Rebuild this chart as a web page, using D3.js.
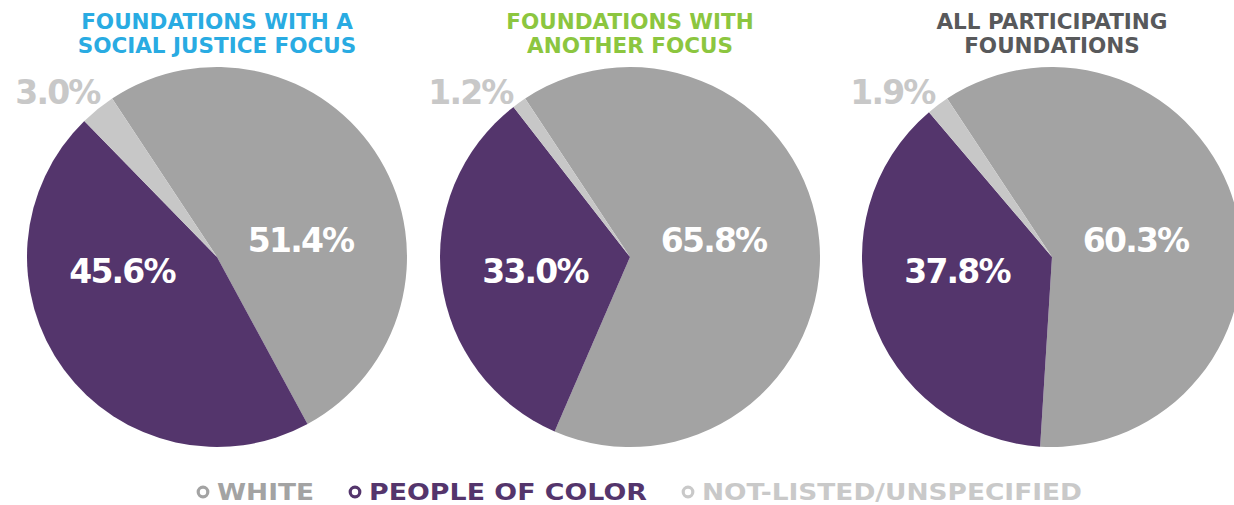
<!DOCTYPE html>
<html>
<head>
<meta charset="utf-8">
<script src="https://cdn.jsdelivr.net/npm/d3@7"></script>
<style>
  body { margin: 0; background: #fff; }
  svg { display: block; }
</style>
</head>
<body>
<div class="chartContainer"></div>
<script>
// data
var groups = ['sj', 'other', 'all'];
var titles = [
    ['FOUNDATIONS WITH A', 'SOCIAL JUSTICE FOCUS'],
    ['FOUNDATIONS WITH', 'ANOTHER FOCUS'],
    ['ALL PARTICIPATING', 'FOUNDATIONS']
];
var categories = ['WHITE', 'PEOPLE OF COLOR', 'NOT-LISTED/UNSPECIFIED'];
var white = [51.4, 65.8, 60.3];
var peopleOfColor = [45.6, 33.0, 37.8];
var notListed = [3.0, 1.2, 1.9];

const width = 1234;
const height = 505;
const radius = 190;
const centerY = 257;
const legendWidths = [97, 278, 380]; // width the legend words are fitted to

const titleColour = d3.scaleOrdinal().domain(groups).range(['#29abe2', '#8cc63f', '#58595b']);
const sliceColour = d3.scaleOrdinal().domain(categories).range(['#a3a3a3', '#54356c', '#c7c7c7']);
const legendColour = d3.scaleOrdinal().domain(categories).range(['#a3a3a3', '#54356c', '#c9c9c9']);
const xCenter = d3.scaleOrdinal().domain(groups).range([217, 630, 1052]);

const svg = d3.select('.chartContainer')
              .append('svg')
                .attr('width', width)
                .attr('height', height);

const pie = d3.pie()
              .sort(null)
              .value((d) => d.value)
              .startAngle(-33.5 * Math.PI / 180)
              .endAngle((360 - 33.5) * Math.PI / 180);

const arc = d3.arc().innerRadius(0).outerRadius(radius);

groups.forEach(function(g, i) {
    const rows = [
        {cat: categories[0], value: white[i]},
        {cat: categories[1], value: peopleOfColor[i]},
        {cat: categories[2], value: notListed[i]}
    ];
    const cx = xCenter(g);

    // title, two lines
    titles[i].forEach(function(line, k) {
        svg.append('text')
            .attr('x', cx)
            .attr('y', 29 + k * 24)
            .attr('text-anchor', 'middle')
            .attr('fill', titleColour(g))
            .style('font-family', '"DejaVu Sans", sans-serif')
            .style('font-weight', 'bold')
            .style('font-size', '21.5px')
            .text(line);
    });

    const canvas = svg.append('g')
        .attr('transform', `translate(${cx}, ${centerY})`);

    canvas.selectAll('path')
        .data(pie(rows))
        .enter()
        .append('path')
            .attr('d', arc)
            .attr('fill', (d) => sliceColour(d.data.cat));

    // value labels
    canvas.append('text')
        .attr('x', radius * 0.44)
        .attr('y', -5)
        .attr('fill', '#fff')
        .attr('class', 'val')
        .text(white[i].toFixed(1) + '%');

    canvas.append('text')
        .attr('x', -radius * 0.5)
        .attr('y', 26)
        .attr('fill', '#fff')
        .attr('class', 'val')
        .text(peopleOfColor[i].toFixed(1) + '%');

    canvas.append('text')
        .attr('x', -radius * 0.84)
        .attr('y', -153)
        .attr('fill', '#c8c8c8')
        .attr('class', 'val')
        .text(notListed[i].toFixed(1) + '%');
});

svg.selectAll('.val')
    .attr('text-anchor', 'middle')
    .style('font-family', '"DejaVu Sans", sans-serif')
    .style('font-weight', 'bold')
    .style('font-size', '33px')
    .style('letter-spacing', '-1.8px');

// legend
const legend = svg.append('g').attr('transform', 'translate(197, 500)');
let x = 0;
categories.forEach(function(c, i) {
    const item = legend.append('g').attr('transform', `translate(${x}, 0)`);
    item.append('circle')
        .attr('cx', 6)
        .attr('cy', -8)
        .attr('r', 4.8)
        .attr('fill', 'none')
        .attr('stroke', legendColour(c))
        .attr('stroke-width', 3.2);
    item.append('text')
        .attr('x', 20)
        .attr('y', 0)
        .attr('fill', legendColour(c))
        .attr('textLength', legendWidths[i])
        .attr('lengthAdjust', 'spacingAndGlyphs')
        .style('font-family', '"DejaVu Sans", sans-serif')
        .style('font-weight', 'bold')
        .style('font-size', '23px')
        .text(c);
    x += 20 + legendWidths[i] + 35;
});
</script>
</body>
</html>
